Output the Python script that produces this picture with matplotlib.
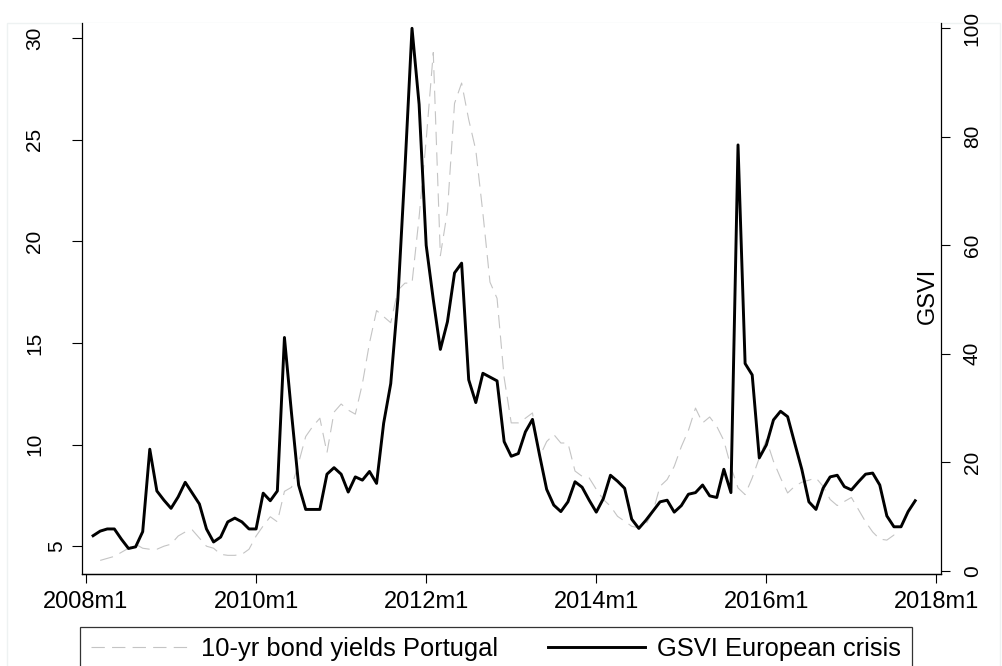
import matplotlib
matplotlib.use("Agg")
import matplotlib.pyplot as plt
import numpy as np

plt.rcParams["font.family"] = ["Liberation Sans", "DejaVu Sans"]

# monthly series, months counted from 2008m1 = 0
gsvi_start = 1  # 2008m2
gsvi = [
    6.45, 7.3, 7.7, 7.7, 5.8, 4.1, 4.4, 7.2, 22.4, 14.7, 13.0,
    11.5, 13.6, 16.3, 14.3, 12.3, 7.7, 5.3, 6.2, 9.0, 9.7, 9.0, 7.7,
    7.7, 14.3, 12.9, 14.7, 43.0, 29.0, 15.8, 11.3, 11.3, 11.3, 17.8, 19.0,
    17.8, 14.5, 17.3, 16.7, 18.3, 16.1, 27.2, 34.5, 50.0, 74.0, 100.0, 86.0,
    60.0, 50.0, 40.8, 45.9, 54.9, 56.7, 35.2, 31.0, 36.4, 35.7, 35.0, 23.8,
    21.1, 21.6, 25.6, 27.9, 21.3, 15.0, 12.1, 10.9, 12.7, 16.4, 15.4, 13.0,
    10.8, 13.3, 17.6, 16.5, 15.2, 9.5, 7.8, 9.3, 11.0, 12.7, 13.0, 10.8,
    12.0, 14.1, 14.4, 15.8, 13.8, 13.5, 18.7, 14.4, 78.5, 38.2, 36.1, 20.8,
    23.2, 27.8, 29.4, 28.4, 23.5, 18.7, 12.7, 11.3, 15.2, 17.3, 17.6, 15.5,
    14.9, 16.4, 17.8, 18.0, 15.8, 10.1, 8.1, 8.1, 10.9, 12.9,
]

yield_start = 2  # 2008m3
bond_yield = [
    4.3, 4.4, 4.5, 4.7, 4.9, 5.1, 4.9, 4.85, 4.85, 5.0,
    5.1, 5.5, 5.7, 5.8, 5.4, 5.0, 4.9, 4.6, 4.55, 4.55, 4.6, 4.85,
    5.5, 6.0, 6.45, 6.2, 7.7, 7.9, 9.1, 10.4, 10.9, 11.3, 9.6, 11.6,
    12.0, 11.7, 11.5, 13.0, 15.0, 16.6, 16.3, 16.0, 17.6, 17.95, 17.95, 21.2,
    25.0, 29.3, 19.3, 21.5, 26.8, 27.8, 26.0, 24.5, 21.4, 18.0, 17.2, 13.3,
    11.07, 11.07, 11.3, 11.56, 9.4, 10.15, 10.5, 10.08, 10.08, 8.7, 8.44, 8.36,
    7.8, 7.3, 6.97, 6.47, 6.23, 5.98, 5.9, 6.07, 6.7, 7.95, 8.28, 8.93,
    9.9, 10.7, 11.8, 11.07, 11.36, 10.9, 10.2, 8.9, 7.87, 7.54, 8.36, 9.35,
    10.25, 9.18, 8.36, 7.62, 7.95, 8.15, 8.25, 8.36, 7.95, 7.3, 7.0, 7.2,
    7.4, 6.8, 6.2, 5.7, 5.35, 5.3, 5.55, 5.55,
]

x_ticks = [0, 24, 48, 72, 96, 120]
x_labels = ["2008m1", "2010m1", "2012m1", "2014m1", "2016m1", "2018m1"]
left_ticks = [5, 10, 15, 20, 25, 30]
right_ticks = [0, 20, 40, 60, 80, 100]

fig = plt.figure(figsize=(10.03, 6.66), dpi=100)
ax = fig.add_axes([0.0815, 0.1381, 0.8564, 0.8269])
ax2 = ax.twinx()

# faint outer region outline
fig.add_artist(plt.Rectangle((0.007, -0.1), 0.99, 0.1 + 0.965, transform=fig.transFigure,
                             fill=False, edgecolor="#eef2f2", linewidth=1.0, zorder=0))

m_yield = np.arange(yield_start, yield_start + len(bond_yield))
m_gsvi = np.arange(gsvi_start, gsvi_start + len(gsvi))

l1, = ax.plot(m_yield, bond_yield, color="#c4c4c4", linewidth=0.8,
              dashes=[12, 6.5], label="10-yr bond yields Portugal")
l2, = ax2.plot(m_gsvi, gsvi, color="black", linewidth=2.1,
               label="GSVI European crisis")

ax.set_xlim(-0.6, 120.6)
ax.set_ylim(3.63, 30.74)
ax2.set_ylim(-0.61, 100.92)

ax.set_xticks(x_ticks)
ax.set_xticklabels(x_labels, fontsize=17)
ax.tick_params(axis="x", length=6.5, width=0.8, pad=6, direction="out")

ax.set_yticks(left_ticks)
ax.set_yticklabels([str(v) for v in left_ticks], fontsize=15, rotation=90,
                   va="center")
ax.tick_params(axis="y", length=7.2, width=0.8, pad=20, direction="out")
ax.yaxis.get_major_ticks()[0].set_pad(4)

ax2.set_yticks(right_ticks)
ax2.set_yticklabels([str(v) for v in right_ticks], fontsize=15, rotation=90,
                    va="center")
ax2.tick_params(axis="y", length=6.5, width=0.8, pad=9.4, direction="out")

ax2.text(0.9855, 0.505, "GSVI", transform=ax2.transAxes, rotation=90,
         ha="center", va="center", fontsize=17)

for a in (ax, ax2):
    a.spines["top"].set_visible(False)
    for s in ("left", "right", "bottom"):
        a.spines[s].set_linewidth(0.9)
ax.spines["right"].set_visible(False)
ax2.spines["left"].set_visible(False)

leg = fig.legend(handles=[l1, l2], loc="upper left",
                 bbox_to_anchor=(80 / 1003, 1 - 626.7 / 666),
                 ncol=2, fontsize=18.4, frameon=True, fancybox=False,
                 handlelength=3.8, handletextpad=0.5, columnspacing=1.95,
                 borderpad=0.42, borderaxespad=0)
leg.get_frame().set_edgecolor("black")
leg.get_frame().set_linewidth(0.9)

fig.savefig("out.png", dpi=100)
